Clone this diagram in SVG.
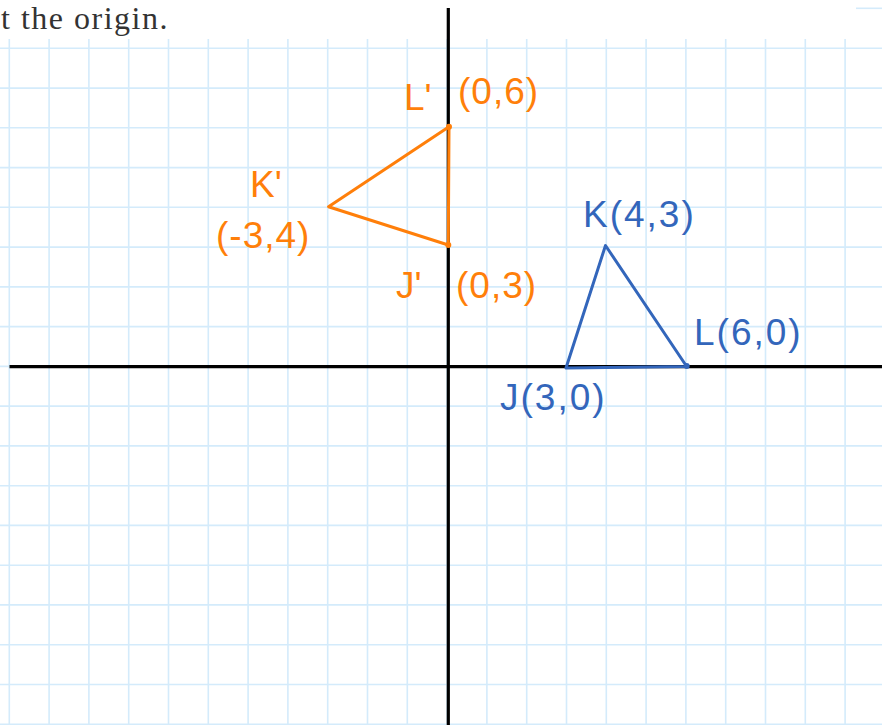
<svg xmlns="http://www.w3.org/2000/svg" width="882" height="725" viewBox="0 0 882 725">
<style>
.grid{stroke:#d4ebfb;stroke-width:1.6;fill:none}
.axis{stroke:#000;stroke-width:3.2;fill:none}
.orange{stroke:#ff7f0a;stroke-width:3;fill:none;stroke-linejoin:round;stroke-linecap:round}
.blue{stroke:#3366bb;stroke-width:3;fill:none;stroke-linejoin:round;stroke-linecap:round}
.lo{fill:#ff7f0a;font-family:"Liberation Sans","DejaVu Sans",sans-serif;font-size:37px}
.lb{fill:#3366bb;font-family:"Liberation Sans","DejaVu Sans",sans-serif;font-size:37px}
.title{fill:#333;font-family:"Liberation Serif","Times New Roman",serif;font-size:32px}
</style>
<rect width="882" height="725" fill="#fff"/>
<g id="grid">
<path class="grid" d="M9.3 39V725M49.1 39V725M88.9 39V725M128.7 39V725M168.5 39V725M208.3 39V725M248.1 39V725M287.9 39V725M327.7 39V725M367.5 39V725M407.3 39V725M447.1 39V725M486.9 39V725M526.7 39V725M566.5 39V725M606.3 39V725M646.1 39V725M685.9 39V725M725.7 39V725M765.5 39V725M805.3 39V725M845.1 39V725"/>
<path class="grid" d="M0 48.3H882M0 88.1H882M0 127.8H882M0 167.6H882M0 207.3H882M0 247.1H882M0 286.9H882M0 326.6H882M0 366.4H882M0 406.1H882M0 445.9H882M0 485.7H882M0 525.4H882M0 565.2H882M0 604.9H882M0 644.7H882M0 684.5H882M0 724.2H882"/>
<path class="grid" d="M856 8.3H882"/>
</g>
<text class="title" x="1" y="29" letter-spacing="1.5">t the origin.</text>
<g id="axes">
<path class="axis" d="M448.3 8V725"/>
<path class="axis" d="M9.5 366.7H882"/>
</g>
<g id="image-triangle">
<path class="orange" d="M449 126.7L328.5 206.7L448.3 245Z"/>
<circle cx="449" cy="126.7" r="3" fill="#ff7f0a"/>
<circle cx="448.3" cy="245" r="3" fill="#ff7f0a"/>
</g>
<g id="original-triangle">
<path class="blue" d="M605.5 245.5L566 368L686.7 366.5Z"/>
<circle cx="686.7" cy="366" r="3" fill="#3366bb"/>
</g>
<g id="labels">
<text class="lo" x="404" y="110">L'</text>
<text class="lo" x="458" y="104" letter-spacing="1">(0,6)</text>
<text class="lo" x="250" y="197">K'</text>
<text class="lo" x="216" y="248" letter-spacing="1">(-3,4)</text>
<text class="lo" x="396" y="298">J'</text>
<text class="lo" x="456" y="298" letter-spacing="1">(0,3)</text>
<text class="lb" x="583" y="227" letter-spacing="2">K(4,3)</text>
<text class="lb" x="694" y="345" letter-spacing="2">L(6,0)</text>
<text class="lb" x="500" y="410" letter-spacing="2">J(3,0)</text>
</g>
</svg>
